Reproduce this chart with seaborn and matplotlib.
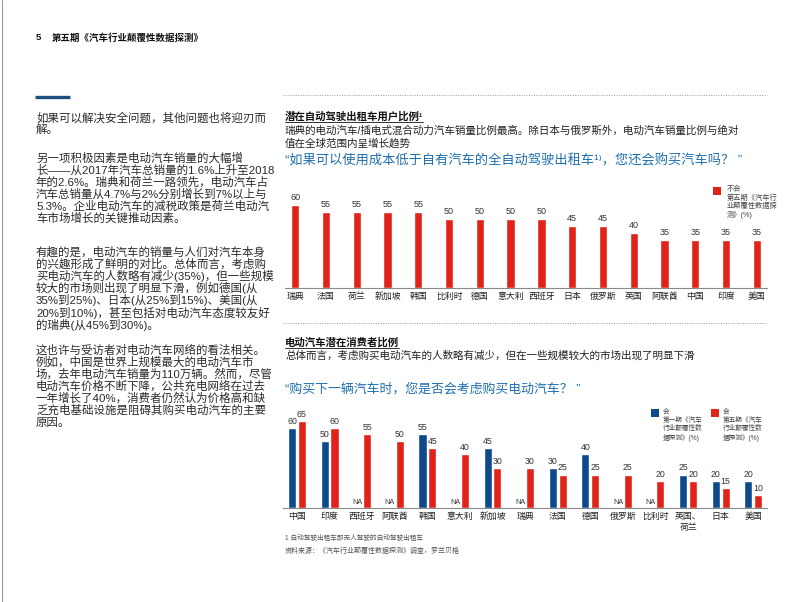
import numpy as np
import pandas as pd
import matplotlib
matplotlib.use("Agg")
import matplotlib.pyplot as plt
import seaborn as sns
from matplotlib.lines import Line2D
from matplotlib.patches import Rectangle

# ---------------- data ----------------
taxi_countries = ["瑞典", "法国", "荷兰", "新加坡", "韩国", "比利时", "德国", "意大利",
                  "西班牙", "日本", "俄罗斯", "英国", "阿联酋", "中国", "印度", "美国"]
taxi_no = [60, 55, 55, 55, 55, 50, 50, 50, 50, 45, 45, 40, 35, 35, 35, 35]

ev_countries = ["中国", "印度", "西班牙", "阿联酋", "韩国", "意大利", "新加坡", "瑞典",
                "法国", "德国", "俄罗斯", "比利时", "英国、\n荷兰", "日本", "美国"]
ev_first = [60, 50, np.nan, np.nan, 55, np.nan, 45, np.nan, 30, 40, np.nan, np.nan, 25, 20, 20]
ev_fifth = [65, 60, 55, 50, 45, 40, 30, 30, 25, 25, 25, 20, 20, 15, 10]
wave_names = ["第一期", "第五期"]

legend_taxi = "不会\n第五期《汽车行\n业颠覆性数据探\n测》(%)"
legend_first = "会\n第一期《汽车\n行业颠覆性数\n据探测》(%)"
legend_fifth = "会\n第五期《汽车\n行业颠覆性数\n据探测》(%)"

header_num = "5"
header_text = "第五期《汽车行业颠覆性数据探测》"

left_paragraphs = [
    ["如果可以解决安全问题，其他问题也将迎刃而",
     "解。"],
    ["另一项积极因素是电动汽车销量的大幅增",
     "长——从2017年汽车总销量的1.6%上升至2018",
     "年的2.6%。瑞典和荷兰一路领先，电动汽车占",
     "汽车总销量从4.7%与2%分别增长到7%以上与",
     "5.3%。企业电动汽车的减税政策是荷兰电动汽",
     "车市场增长的关键推动因素。"],
    ["有趣的是，电动汽车的销量与人们对汽车本身",
     "的兴趣形成了鲜明的对比。总体而言，考虑购",
     "买电动汽车的人数略有减少(35%)，但一些规模",
     "较大的市场则出现了明显下滑，例如德国(从",
     "35%到25%)、日本(从25%到15%)、美国(从",
     "20%到10%)，甚至包括对电动汽车态度较友好",
     "的瑞典(从45%到30%)。"],
    ["这也许与受访者对电动汽车网络的看法相关。",
     "例如，中国是世界上规模最大的电动汽车市",
     "场，去年电动汽车销量为110万辆。然而，尽管",
     "电动汽车价格不断下降，公共充电网络在过去",
     "一年增长了40%，消费者仍然认为价格高和缺",
     "乏充电基础设施是阻碍其购买电动汽车的主要",
     "原因。"],
]
para_starts = [118, 158, 252, 350]

title1 = "潜在自动驾驶出租车用户比例¹"
sub1 = ["瑞典的电动汽车/插电式混合动力汽车销量比例最高。除日本与俄罗斯外，电动汽车销量比例与绝对",
        "值在全球范围内呈增长趋势"]
quote1 = "“如果可以使用成本低于自有汽车的全自动驾驶出租车¹⁾，您还会购买汽车吗？ ”"
title2 = "电动汽车潜在消费者比例"
sub2 = "总体而言，考虑购买电动汽车的人数略有减少，但在一些规模较大的市场出现了明显下滑"
quote2 = "“购买下一辆汽车时，您是否会考虑购买电动汽车？ ”"
foot1 = "1 自动驾驶出租车即无人驾驶的自动驾驶出租车"
foot2 = "资料来源：《汽车行业颠覆性数据探测》调查，罗兰贝格"

# ---------------- style ----------------
sns.set_style("white")
FAM = ["Liberation Sans", "Noto Sans CJK SC", "DejaVu Sans"]
plt.rcParams["font.family"] = FAM
RED = "#e2231a"
BLUE = "#0c4a8c"
QBLUE = "#1f6fae"
TXT = "#222222"

W, H = 802, 602
fig = plt.figure(figsize=(W / 100, H / 100), dpi=100)
fig.patch.set_facecolor("white")


def T(x, y, s, **kw):
    kw.setdefault("va", "center")
    kw.setdefault("ha", "left")
    kw.setdefault("color", TXT)
    return fig.text(x / W, 1 - y / H, s, **kw)


def HL(x0, x1, y, **kw):
    fig.add_artist(Line2D([x0 / W, x1 / W], [1 - y / H, 1 - y / H], transform=fig.transFigure, **kw))


# page edge
fig.add_artist(Line2D([1.5 / W, 1.5 / W], [0, 1], transform=fig.transFigure, color="#9a9a9a", lw=0.8))

# header
T(36, 38, header_num, fontsize=6.8, fontweight="bold", color="#111111")
T(52, 38, header_text, fontsize=6.8, fontweight="bold", color="#111111")

# left column
HL(35, 70, 97, color="#1d4f80", lw=2.4, solid_capstyle="butt")
for start, lines in zip(para_starts, left_paragraphs):
    for k, line in enumerate(lines):
        T(36, start + k * 12.1, line, fontsize=8.25, color="#2a2a2a")

# right column texts
HL(283, 767, 95, color="#9a9a9a", lw=0.7, linestyle=(0, (1, 1.5)))
t1 = T(285, 116.5, title1, fontsize=7.5, fontweight="bold", color="#111111")
T(285, 130.5, sub1[0], fontsize=7.6)
T(285, 143, sub1[1], fontsize=7.6)
T(285, 160.5, quote1, fontsize=9.5, color=QBLUE)

HL(283, 767, 322.5, color="#9a9a9a", lw=0.7, linestyle=(0, (1, 1.5)))
t2 = T(285, 342.5, title2, fontsize=7.5, fontweight="bold", color="#111111")
T(285, 355.5, sub2, fontsize=7.6)
T(285, 389.5, quote2, fontsize=9.3, color=QBLUE)

T(285, 538, foot1, fontsize=4.8, color="#555555")
T(285, 551.5, foot2, fontsize=5.0, color="#555555")

# ---------------- chart 1 ----------------
df1 = pd.DataFrame({"country": taxi_countries, "value": taxi_no})
ax1 = fig.add_axes([285 / W, 1 - 288 / H, 482 / W, 108 / H])
sns.barplot(data=df1, x="country", y="value", color=RED, width=0.27,
            errorbar=None, ax=ax1, saturation=1)
ax1.set_xlim(-0.33, 15.33)
ax1.set_ylim(0, 78)
for p in ax1.patches:
    h = p.get_height()
    if np.isfinite(h) and h > 0:
        ax1.annotate(f"{int(round(h))}", (p.get_x() + p.get_width() / 2, h),
                     xytext=(0, 2), textcoords="offset points",
                     ha="center", va="bottom", fontsize=6.5, color="#333333")

# legend chart 1
fig.add_artist(Rectangle((713 / W, 1 - 195 / H), 8 / W, 8 / H, transform=fig.transFigure,
                         facecolor=RED, edgecolor="none"))
T(727, 186, legend_taxi, fontsize=5.2, va="top", color="#444444", linespacing=1.2)

# ---------------- chart 2 ----------------
df2 = pd.DataFrame({
    "country": ev_countries * 2,
    "wave": [wave_names[0]] * len(ev_countries) + [wave_names[1]] * len(ev_countries),
    "value": list(ev_first) + list(ev_fifth),
})
ax2 = fig.add_axes([283 / W, 1 - 508 / H, 484 / W, 108 / H])
sns.barplot(data=df2, x="country", y="value", hue="wave", hue_order=wave_names,
            order=ev_countries, palette=[BLUE, RED], width=0.6, gap=0.18,
            errorbar=None, ax=ax2, saturation=1, legend=False)
ax2.set_xlim(-0.43, 14.42)
ax2.set_ylim(0, 80.6)
for p in ax2.patches:
    h = p.get_height()
    if np.isfinite(h) and h > 0:
        ax2.annotate(f"{int(round(h))}", (p.get_x() + p.get_width() / 2, h),
                     xytext=(0, 1.5), textcoords="offset points",
                     ha="center", va="bottom", fontsize=6.3, color="#333333")
for i, v in enumerate(ev_first):
    if not np.isfinite(v):
        ax2.text(i - 0.15, 1.2, "NA", ha="center", va="bottom", fontsize=5.2, color="#333333")

# legend chart 2
fig.add_artist(Rectangle((651 / W, 1 - 417 / H), 8 / W, 8 / H, transform=fig.transFigure,
                         facecolor=BLUE, edgecolor="none"))
T(663, 408.5, legend_first, fontsize=4.8, va="top", color="#444444", linespacing=1.25)
fig.add_artist(Rectangle((711 / W, 1 - 417 / H), 8 / W, 8 / H, transform=fig.transFigure,
                         facecolor=RED, edgecolor="none"))
T(723, 408.5, legend_fifth, fontsize=4.8, va="top", color="#444444", linespacing=1.25)

# axis styling
for ax in (ax1, ax2):
    sns.despine(ax=ax, left=True)
    ax.spines["bottom"].set_color("#8a8a8a")
    ax.spines["bottom"].set_linewidth(0.8)
    ax.set_xlabel("")
    ax.set_ylabel("")
    ax.set_yticks([])
    ax.tick_params(axis="x", length=0, pad=3, labelsize=6.4, labelcolor="#222222")
    ax.set_facecolor("none")
    for lab in ax.get_xticklabels():
        lab.set_linespacing(1.2)

# underlines for titles
fig.canvas.draw()
r = fig.canvas.get_renderer()
for t in (t1, t2):
    bb = t.get_window_extent(r)
    y = bb.y0 - 0.5
    fig.add_artist(Line2D([bb.x0 / W, bb.x1 / W], [y / H, y / H], transform=fig.transFigure,
                          color="#111111", lw=0.6))

fig.savefig("out.png", dpi=100)
